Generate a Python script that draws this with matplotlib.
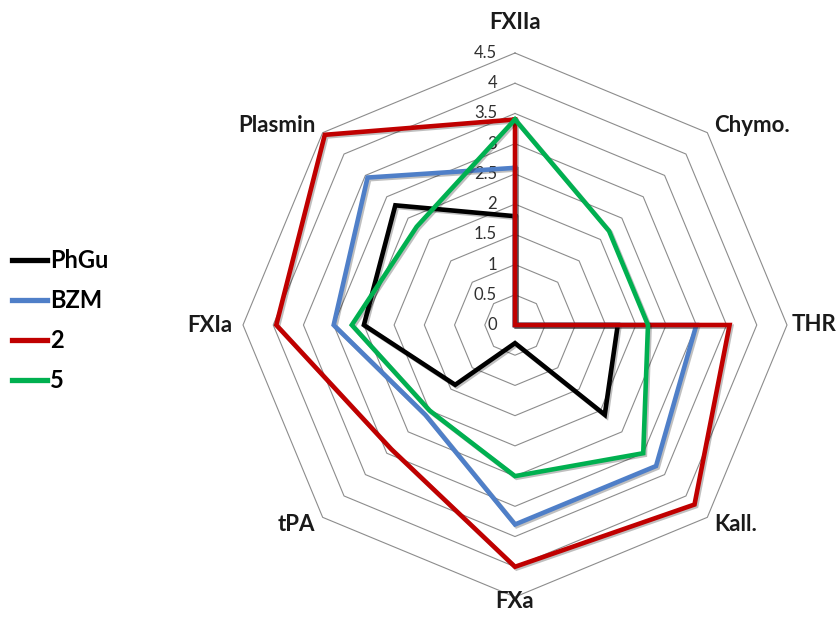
import matplotlib
matplotlib.use("Agg")
import matplotlib.pyplot as plt
import matplotlib.patheffects as pe
import numpy as np

categories = ["FXIIa", "Chymo.", "THR", "Kall.", "FXa", "tPA", "FXIa", "Plasmin"]
phgu = [1.8, 0.0, 1.7, 2.1, 0.3, 1.4, 2.5, 2.8]
bzm = [2.6, 0.0, 3.0, 3.3, 3.3, 2.1, 3.0, 3.45]
cpd2 = [3.4, 0.0, 3.55, 4.2, 4.0, 2.9, 3.95, 4.45]
cpd5 = [3.4, 2.2, 2.2, 3.0, 2.5, 2.0, 2.7, 2.3]
series_names = ["PhGu", "BZM", "2", "5"]
colors = ["#000000", "#4F7FC8", "#C00000", "#00B050"]
levels = np.arange(0, 4.51, 0.5)

plt.rcParams['font.family'] = ['Lato', 'DejaVu Sans']

fig = plt.figure(figsize=(8.4, 6.33), dpi=100)
ax = fig.add_axes([243 / 840, 36 / 633, 544 / 840, 544 / 633], projection='polar')
ax.set_theta_zero_location('N')
ax.set_theta_direction(-1)
ax.set_ylim(0, 4.5)
ax.grid(False)
ax.spines['polar'].set_visible(False)
ax.set_xticks([])
ax.set_yticks([])
ax.patch.set_visible(False)

n = len(categories)
angles = np.linspace(0, 2 * np.pi, n, endpoint=False)
closed = np.append(angles, angles[0])

# octagonal grid
for lv in levels:
    ax.plot(closed, [lv] * (n + 1), color='#8c8c8c', lw=0.8, zorder=1, clip_on=False)
    ax.annotate(f"{lv:g}", xy=(0, lv), xytext=(-13, 0), textcoords='offset points',
                ha='right', va='center', fontsize=12, color='#303030', zorder=2)

shadow = [pe.SimpleLineShadow(offset=(1.2, -1.2), alpha=0.25), pe.Normal()]
for name, vals, c in zip(series_names, [phgu, bzm, cpd2, cpd5], colors):
    ax.plot(closed, vals + vals[:1], color=c, lw=3.3, label=name, zorder=3,
            solid_joinstyle='miter', clip_on=False, path_effects=shadow)

# category labels
label_pos = {
    "FXIIa": (5.0, 'center', 'center'),
    "Chymo.": (4.67, 'left', 'center'),
    "THR": (4.58, 'left', 'center'),
    "Kall.": (4.67, 'left', 'center'),
    "FXa": (4.57, 'center', 'center'),
    "tPA": (4.67, 'right', 'center'),
    "FXIa": (4.67, 'right', 'center'),
    "Plasmin": (4.67, 'right', 'center'),
}
for ang, cat in zip(angles, categories):
    r, ha, va = label_pos[cat]
    ax.text(ang, r, cat, ha=ha, va=va, fontsize=16, fontweight='bold', color='#1a1a1a', clip_on=False)

leg = ax.legend(loc='center left', bbox_to_anchor=(12 / 840, 1 - 321 / 633),
                bbox_transform=fig.transFigure, frameon=False, borderpad=0, borderaxespad=0,
                handlelength=1.5, handletextpad=0.12, labelspacing=0.72,
                prop={'size': 17, 'weight': 'bold'})
for h in leg.get_lines():
    h.set_linewidth(3.8)
    h.set_path_effects([])

fig.savefig('out.png', dpi=100)
